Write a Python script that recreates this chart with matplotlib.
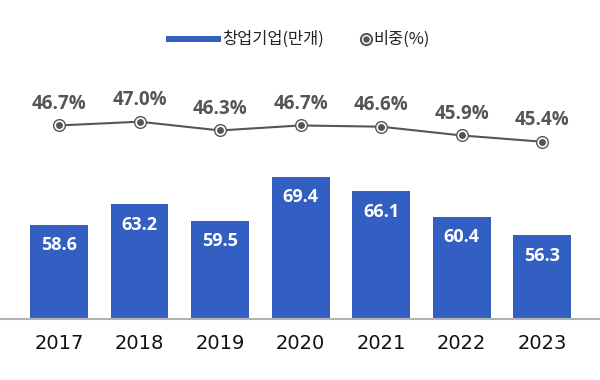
import matplotlib
matplotlib.use("Agg")
import matplotlib.pyplot as plt
from matplotlib.lines import Line2D

years = ["2017", "2018", "2019", "2020", "2021", "2022", "2023"]
startups = [58.6, 63.2, 59.5, 69.4, 66.1, 60.4, 56.3]
share = [46.7, 47.0, 46.3, 46.7, 46.6, 45.9, 45.4]
legend_labels = ["창업기업(만개)", "비중(%)"]

BLUE = "#335FC3"
GRAY = "#555555"
KR = ["Noto Sans CJK KR", "DejaVu Sans"]
NUM = ["Open Sans", "DejaVu Sans"]

W, H = 600, 380
fig = plt.figure(figsize=(6, 3.8), dpi=100)
base_px = 319
top_px = 40
ax = fig.add_axes([0, (H - base_px) / H, 1, (base_px - top_px) / H])
ax2 = ax.twinx()
ax2.set_position(ax.get_position())

x = list(range(len(years)))
ax.bar(x, startups, width=0.72, color=BLUE, zorder=2)
ax.set_xlim(-0.733, 6.72)
ax.set_ylim(37.4, 37.4 + (base_px - top_px) / 4.45)

for xi, v in zip(x, startups):
    ax.annotate(f"{v:.1f}", xy=(xi, v), xytext=(0, -15), textcoords="offset points",
                ha="center", va="center", color="white", fontsize=13,
                fontweight="bold", family=NUM, zorder=3)

ax.set_xticks(x, years)
ax.tick_params(axis="x", length=0, pad=10.5, labelsize=14, labelcolor="#111111")
for lab in ax.get_xticklabels():
    lab.set_family(["DejaVu Sans"])
ax.set_yticks([])
for s in ["top", "left", "right"]:
    ax.spines[s].set_visible(False)
ax.spines["bottom"].set_color("#b4b4b4")
ax.spines["bottom"].set_linewidth(1.5)

# secondary axis for share
y2_bottom = 47.0 - (base_px - 121.7) / 12.5
y2_top = 47.0 + (121.7 - top_px) / 12.5
ax2.set_ylim(y2_bottom, y2_top)
ax2.plot(x, share, color=GRAY, lw=1.5, zorder=3)
ax2.scatter(x, share, s=9.4**2, color=GRAY, zorder=4, linewidths=0)
ax2.scatter(x, share, s=6.2**2, facecolor=GRAY, edgecolor="white", linewidths=1.2, zorder=5)
for xi, v in zip(x, share):
    ax2.annotate(f"{v:.1f}%", xy=(xi, v), xytext=(0, 15.5), textcoords="offset points",
                 ha="center", va="center", color=GRAY, fontsize=13.5,
                 fontweight="bold", family=NUM, zorder=6)
ax2.set_yticks([])
for s in ["top", "left", "right", "bottom"]:
    ax2.spines[s].set_visible(False)

# legend (manual)
ly = 1 - 39 / H
fig.add_artist(Line2D([169 / W, 218 / W], [ly, ly], color=BLUE, lw=4.3, transform=fig.transFigure))
fig.text(222 / W, ly, legend_labels[0], ha="left", va="center", fontsize=11.8,
         family=KR, fontweight="medium", color="#222222")
fig.add_artist(Line2D([366 / W], [ly], marker="o", markersize=8.5, color=GRAY,
                      markerfacecolor=GRAY, markeredgecolor=GRAY, transform=fig.transFigure))
fig.add_artist(Line2D([366 / W], [ly], marker="o", markersize=5.6, color=GRAY,
                      markerfacecolor=GRAY, markeredgecolor="white", markeredgewidth=1,
                      transform=fig.transFigure))
fig.text(373 / W, ly, legend_labels[1], ha="left", va="center", fontsize=11.8,
         family=KR, fontweight="medium", color="#222222")

fig.savefig("out.png", dpi=100)
